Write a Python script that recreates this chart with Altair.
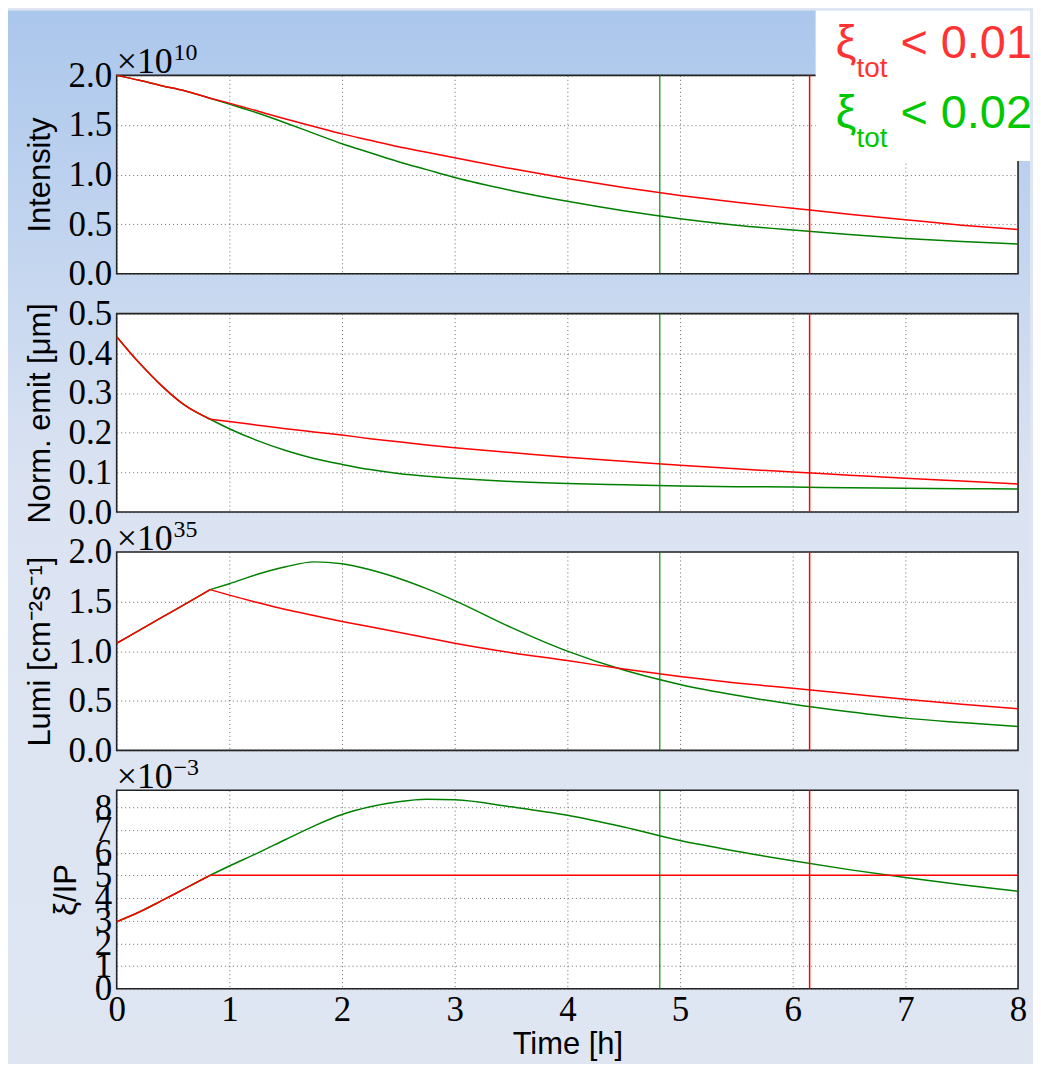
import altair as alt
import pandas as pd

# ---------------- data ----------------
SERIES = ["xi_tot < 0.01", "xi_tot < 0.02"]   # red, green
X_TICKS = [0, 1, 2, 3, 4, 5, 6, 7, 8]

# shared ramp-up phase (both scenarios identical) and levelling phase
T_RAMP = [0.0, 0.2, 0.4, 0.6, 0.83]
T_LEVEL = [0.83, 1.0, 1.25, 1.5, 1.75, 2.0, 2.25, 2.5, 2.75, 3.0, 3.5, 4.0,
           4.5, 5.0, 5.5, 6.0, 6.5, 7.0, 7.5, 8.0]

# Intensity (x1e10)
INT_RAMP = [2.0, 1.95, 1.895, 1.845, 1.77]
INT_RED = [1.77, 1.72, 1.64, 1.56, 1.485, 1.41, 1.345, 1.28, 1.225, 1.17, 1.06,
           0.96, 0.87, 0.79, 0.72, 0.66, 0.60, 0.545, 0.49, 0.445]
INT_GREEN = [1.77, 1.71, 1.62, 1.52, 1.415, 1.31, 1.22, 1.13, 1.05, 0.97, 0.84,
             0.73, 0.635, 0.555, 0.49, 0.44, 0.395, 0.356, 0.325, 0.30]

# Normalised emittance [um]
EM_RAMP = [0.442, 0.376, 0.318, 0.27, 0.234]
EM_RED = [0.234, 0.228, 0.219, 0.21, 0.202, 0.194, 0.185, 0.177, 0.169, 0.162,
          0.150, 0.138, 0.128, 0.118, 0.109, 0.101, 0.093, 0.085, 0.078, 0.071]
EM_GREEN = [0.234, 0.21, 0.18, 0.155, 0.135, 0.12, 0.107, 0.097, 0.09, 0.085,
            0.077, 0.072, 0.069, 0.066, 0.064, 0.063, 0.061, 0.060, 0.059, 0.058]

# Luminosity (x1e35 cm^-2 s^-1)
LU_RAMP = [1.08, 1.21, 1.34, 1.47, 1.62]
LU_RED = [1.62, 1.565, 1.49, 1.42, 1.36, 1.30, 1.245, 1.19, 1.135, 1.08, 0.985,
          0.905, 0.82, 0.745, 0.68, 0.625, 0.57, 0.515, 0.465, 0.42]
LU_GREEN = [1.62, 1.68, 1.775, 1.85, 1.90, 1.88, 1.82, 1.735, 1.63, 1.51, 1.24,
            1.00, 0.81, 0.665, 0.555, 0.465, 0.39, 0.325, 0.28, 0.24]

# beam-beam parameter per IP (x1e-3)
XI_RAMP = [2.95, 3.38, 3.88, 4.40, 5.0]
XI_RED = [5.0, 5.0, 5.0, 5.0, 5.0, 5.0, 5.0, 5.0, 5.0, 5.0, 5.0, 5.0, 5.0, 5.0,
          5.0, 5.0, 5.0, 5.0, 5.0, 5.0]
XI_GREEN = [5.0, 5.41, 5.98, 6.58, 7.17, 7.68, 8.02, 8.24, 8.35, 8.33, 8.02,
            7.65, 7.13, 6.53, 6.06, 5.64, 5.25, 4.9, 4.58, 4.3]

# optimum fill length for each scenario [h]
LIMIT_T = [6.15, 4.82]

# ---------------- style ----------------
RED = "#ff0000"
GREEN = "#008000"
LEG_RED = "#ff3333"
LEG_GREEN = "#00c800"
W, H = 904, 199

ONE = pd.DataFrame({"k": [0]})


def long_df(ramp, red, green):
    rows = []
    for s, lvl in ((SERIES[0], red), (SERIES[1], green)):
        for t, v in zip(T_RAMP, ramp):
            rows.append({"series": s, "phase": "ramp", "t": t, "v": v})
        for t, v in zip(T_LEVEL, lvl):
            rows.append({"series": s, "phase": "level", "t": t, "v": v})
    return pd.DataFrame(rows)


LIM_DF = pd.DataFrame({"series": SERIES, "t": LIMIT_T})


def txt(text, x, y, size, color="black", font="Liberation Serif"):
    return alt.Chart(ONE).mark_text(
        text=text, font=font, fontSize=size, color=color,
        align="left", baseline="alphabetic"
    ).encode(x=alt.value(x), y=alt.value(y))


def exponent(base, exp):
    return [txt(base, 0, -2, 36), txt(exp, 57, -15, 24)]


def panel(ramp, red, green, ydom, yticks, yfmt, ytitle, bottom=False, extras=()):
    df = long_df(ramp, red, green)
    if bottom:
        xaxis = alt.Axis(values=X_TICKS, format="d", grid=True, labels=True,
                         title="Time [h]", labelFlush=False, labelPadding=4,
                         titlePadding=2)
    else:
        xaxis = alt.Axis(values=X_TICKS, grid=True, labels=False, title="")
    yaxis = alt.Axis(values=yticks, format=yfmt, grid=True, labelOverlap=False,
                     labelPadding=5, titlePadding=12, title=ytitle)
    ex = alt.X("t:Q", scale=alt.Scale(domain=[0, 8], nice=False), axis=xaxis)
    ey = alt.Y("v:Q", scale=alt.Scale(domain=ydom, nice=False), axis=yaxis)

    g = alt.Chart(df).transform_filter(alt.datum.series == SERIES[1]).mark_line(
        color=GREEN, strokeWidth=1.5, interpolate="monotone"
    ).encode(x=ex, y=ey, detail="phase:N")
    r = alt.Chart(df).transform_filter(alt.datum.series == SERIES[0]).mark_line(
        color=RED, strokeWidth=1.5, interpolate="monotone"
    ).encode(x=ex, y=ey, detail="phase:N")
    vg = alt.Chart(LIM_DF).transform_filter(alt.datum.series == SERIES[1]).mark_rule(
        color=GREEN, strokeWidth=1.5, opacity=0.75
    ).encode(x=ex)
    vr = alt.Chart(LIM_DF).transform_filter(alt.datum.series == SERIES[0]).mark_rule(
        color=RED, strokeWidth=1.5
    ).encode(x=ex)
    return alt.layer(g, r, vg, vr, *extras).properties(width=W, height=H)


# legend box (top right)
legend = [
    alt.Chart(ONE).mark_rect(color="white").encode(
        x=alt.value(701), x2=alt.value(916), y=alt.value(-65), y2=alt.value(86)),
    txt("ξ", 721, -17, 47, LEG_RED, "Liberation Sans"),
    txt("tot", 742, 2, 28, LEG_RED, "Liberation Sans"),
    txt("< 0.01", 786, -17, 47, LEG_RED, "Liberation Sans"),
    txt("ξ", 721, 53, 47, LEG_GREEN, "Liberation Sans"),
    txt("tot", 742, 72, 28, LEG_GREEN, "Liberation Sans"),
    txt("< 0.02", 786, 53, 47, LEG_GREEN, "Liberation Sans"),
]

p1 = panel(INT_RAMP, INT_RED, INT_GREEN, [0, 2], [0, 0.5, 1.0, 1.5, 2.0], ".1f",
           "Intensity", extras=exponent("×10", "10") + legend)
p2 = panel(EM_RAMP, EM_RED, EM_GREEN, [0, 0.5], [0, 0.1, 0.2, 0.3, 0.4, 0.5], ".1f",
           "Norm. emit [μm]")
p3 = panel(LU_RAMP, LU_RED, LU_GREEN, [0, 2], [0, 0.5, 1.0, 1.5, 2.0], ".1f",
           "Lumi [cm⁻²s⁻¹]", extras=exponent("×10", "35"))
p4 = panel(XI_RAMP, XI_RED, XI_GREEN, [0, 8.75], [0, 1, 2, 3, 4, 5, 6, 7, 8], "d",
           "ξ/IP", bottom=True, extras=exponent("×10", "−3"))

# slide-like gradient background drawn by a thin leading view
grad = alt.LinearGradient(
    gradient="linear",
    stops=[alt.GradientStop(color="#abc7ec", offset=0),
           alt.GradientStop(color="#dbe3f2", offset=0.45),
           alt.GradientStop(color="#dfe6f2", offset=1)],
    x1=0, x2=0, y1=0, y2=1,
)
bg = alt.Chart(ONE).mark_rect(fill=grad, strokeOpacity=0).encode(
    x=alt.value(-109), x2=alt.value(916), y=alt.value(0), y2=alt.value(1055)
).properties(width=W, height=25,
             view=alt.ViewBackground(fillOpacity=0, strokeOpacity=0))

chart = alt.vconcat(
    bg, p1, p2, p3, p4, spacing=40, bounds="flush", padding=0,
    background="#dfe6f2"
).configure_view(
    fill="white", stroke="#222222", strokeWidth=1.6
).configure_axis(
    labelFont="Liberation Serif", labelFontSize=35, labelColor="black",
    titleFont="Liberation Sans", titleFontSize=31, titleFontWeight="normal",
    titleColor="black", gridColor="#444444", gridDash=[1, 3], gridWidth=1,
    gridOpacity=0.8, domain=False, ticks=False
)

chart.save("out.html", embed_options={"renderer": "svg", "actions": False})
